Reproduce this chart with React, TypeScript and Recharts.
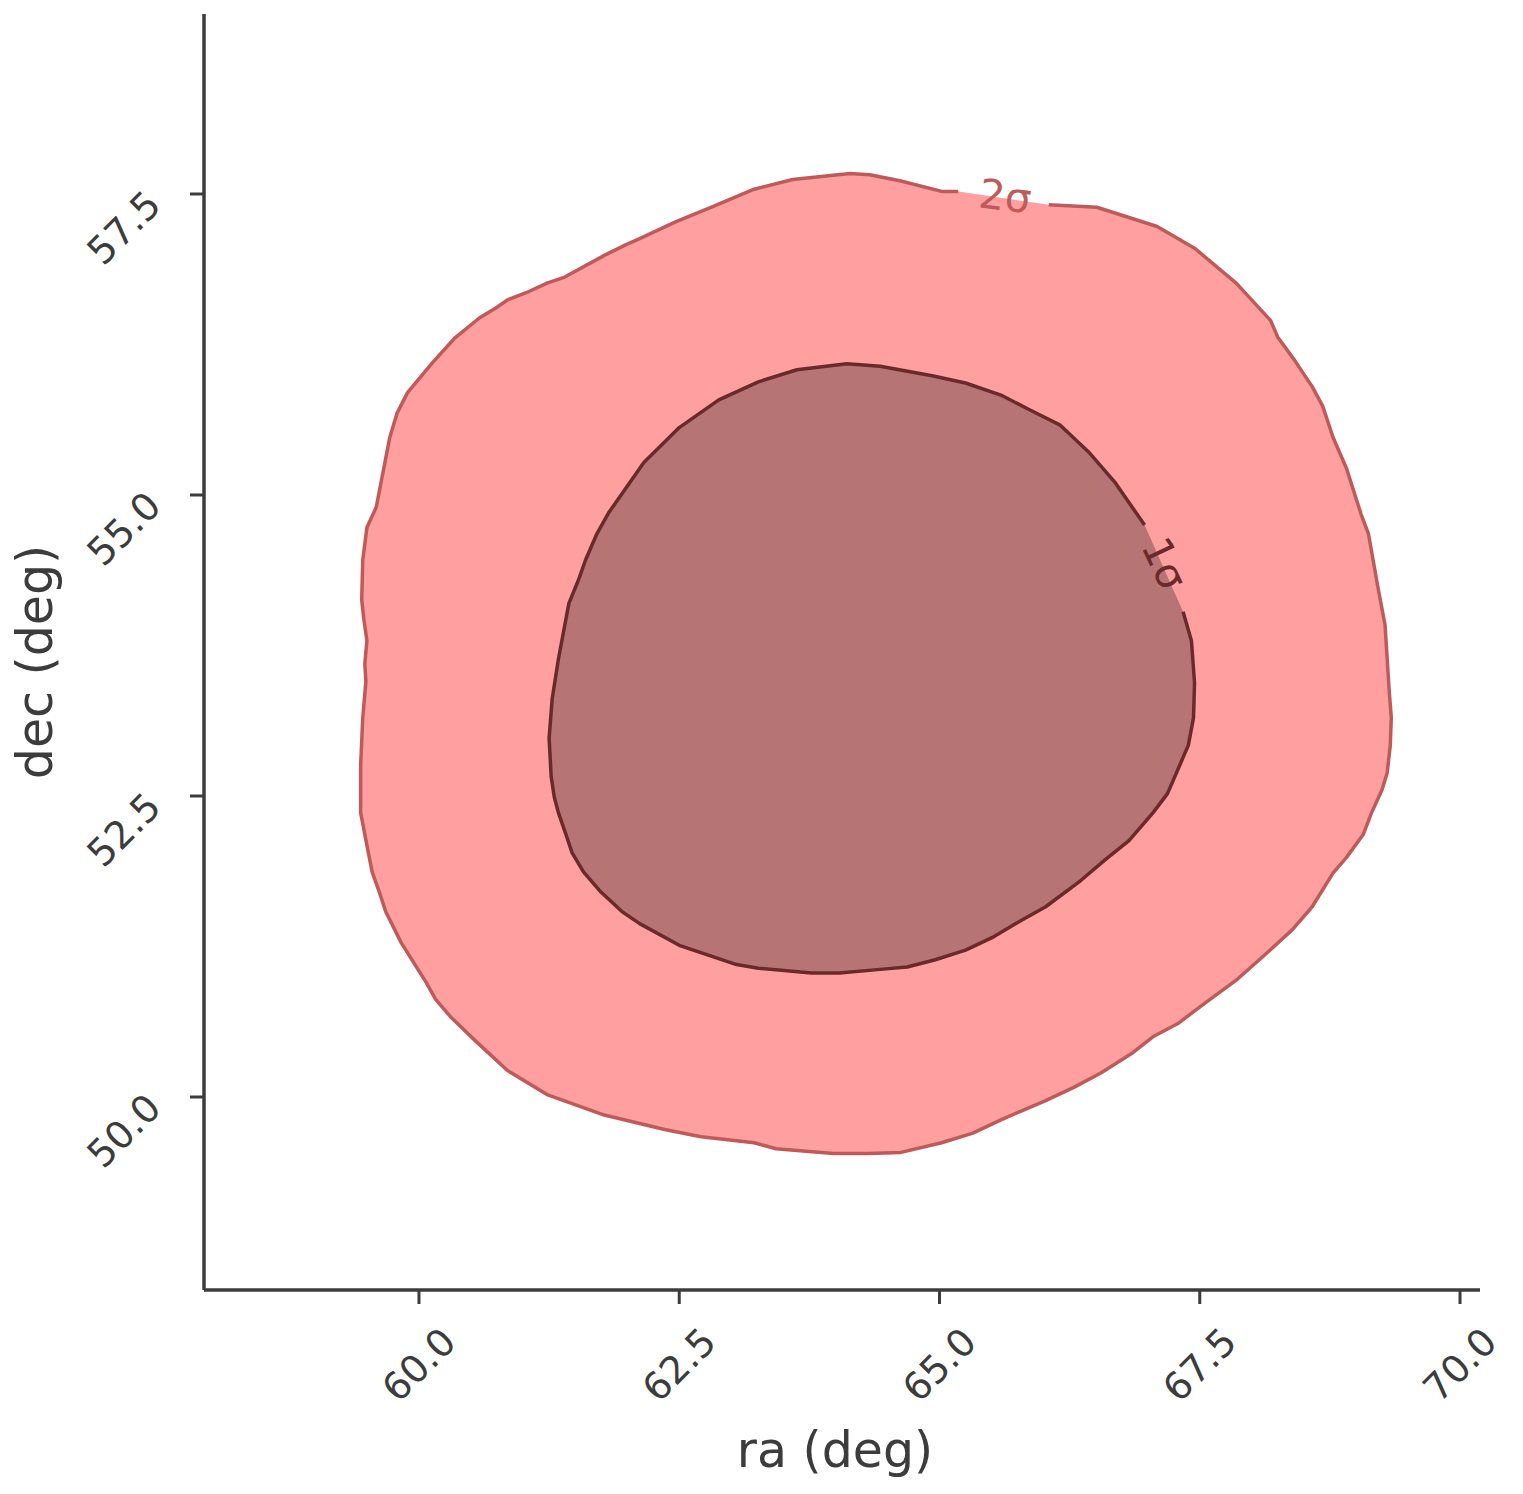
import { Area, ComposedChart, Label, Line, ReferenceDot, XAxis, YAxis } from "recharts";

// outer (2 sigma) contour, clockwise from the right end of the label gap
const outerRa = [
  66.05, 66.51, 66.73, 67.09, 67.45, 67.85, 68.18, 68.25, 68.41, 68.58,
  68.68, 68.78, 68.91, 69.05, 69.12, 69.21, 69.28, 69.32, 69.34, 69.33,
  69.3, 69.25, 69.15, 69.07, 68.91, 68.78, 68.58, 68.39, 68.15, 67.85,
  67.55, 67.29, 67.05, 66.86, 66.55, 66.29, 66.02, 65.75, 65.59, 65.32,
  65.02, 64.63, 64.31, 63.98, 63.43, 63.22, 62.71, 62.36, 61.78, 61.23,
  60.85, 60.55, 60.31, 60.16, 60.07, 59.83, 59.68, 59.62, 59.55, 59.5,
  59.44, 59.44, 59.46, 59.49, 59.48, 59.5, 59.47, 59.45, 59.46, 59.5,
  59.59, 59.72, 59.79, 59.89, 60.13, 60.34, 60.58, 60.75, 60.85, 61.03,
  61.23, 61.4, 61.78, 61.99, 62.12, 62.47, 62.81, 63.22, 63.59, 64.14,
  64.33, 64.62, 65.03, 65.18,
];
const outerDec = [
  57.41, 57.39, 57.33, 57.23, 57.05, 56.76, 56.45, 56.31, 56.12, 55.9,
  55.74, 55.48, 55.22, 54.84, 54.68, 54.24, 53.92, 53.37, 53.15, 52.92,
  52.69, 52.55, 52.36, 52.18, 51.99, 51.86, 51.58, 51.39, 51.2, 50.97,
  50.78, 50.61, 50.5, 50.37, 50.2, 50.08, 49.97, 49.87, 49.81, 49.7,
  49.62, 49.54, 49.53, 49.53, 49.57, 49.62, 49.67, 49.73, 49.85, 50.02,
  50.22, 50.46, 50.66, 50.81, 50.95, 51.28, 51.54, 51.7, 51.87, 52.09,
  52.36, 52.76, 53.15, 53.45, 53.6, 53.79, 53.97, 54.13, 54.46, 54.73,
  54.9, 55.48, 55.68, 55.85, 56.1, 56.3, 56.47, 56.56, 56.62, 56.68,
  56.76, 56.81, 56.99, 57.08, 57.13, 57.27, 57.39, 57.54, 57.62, 57.67,
  57.66, 57.61, 57.52, 57.52,
];

// inner (1 sigma) contour, clockwise from the lower end of the label gap
const innerRa = [
  67.34, 67.42, 67.45, 67.44, 67.39, 67.29, 67.19, 67.05, 66.82, 66.59,
  66.36, 66.02, 65.75, 65.52, 65.25, 64.96, 64.69, 64.43, 64.04, 63.77,
  63.26, 63.05, 62.5, 62.12, 61.95, 61.75, 61.58, 61.47, 61.42, 61.34,
  61.3, 61.27, 61.25, 61.28, 61.34, 61.44, 61.53, 61.6, 61.71, 61.82,
  62.16, 62.5, 62.88, 63.26, 63.63, 64.11, 64.43, 64.93, 65.25, 65.59,
  65.86, 66.16, 66.43, 66.69, 66.97,
];
const innerDec = [
  54.03, 53.79, 53.44, 53.15, 52.92, 52.72, 52.52, 52.36, 52.13, 51.97,
  51.8, 51.58, 51.45, 51.33, 51.22, 51.14, 51.08, 51.06, 51.03, 51.03,
  51.07, 51.1, 51.26, 51.44, 51.54, 51.7, 51.87, 52.03, 52.16, 52.36,
  52.49, 52.66, 52.98, 53.31, 53.64, 54.1, 54.29, 54.46, 54.68, 54.85,
  55.27, 55.56, 55.79, 55.94, 56.04, 56.09, 56.07, 55.99, 55.93, 55.83,
  55.71, 55.58, 55.36, 55.1, 54.75,
];

const levelText = ["2σ", "1σ"];
const levelRa = [65.63, 67.16];
const levelDec = [57.48, 54.43];

const xTicks = [60, 62.5, 65, 67.5, 70];
const yTicks = [50, 52.5, 55, 57.5];

// one row per vertex; the closing row repeats the first vertex (fill only)
const rowCount = Math.max(outerRa.length, innerRa.length) + 1;
const rows = Array.from({ length: rowCount }, (_, i) => {
  const o = i < outerRa.length ? i : 0;
  const k = i < innerRa.length ? i : 0;
  return {
    ox: outerRa[o],
    oy: outerDec[o],
    oyLine: i < outerRa.length ? outerDec[o] : null,
    ix: innerRa[k],
    iy: innerDec[k],
    iyLine: i < innerRa.length ? innerDec[k] : null,
  };
});

const INK = "#3c3c3c";
const FONT = "DejaVu Sans, sans-serif";
const levelStyle = [
  { color: "#bf5a5a", angle: 7 },
  { color: "#6b2a2a", angle: 65 },
];

function XTick({ x, y, payload }: any) {
  return (
    <text
      transform={`translate(${x},${y + 61}) rotate(-45)`}
      textAnchor="middle"
      dominantBaseline="central"
      fontSize={38}
      fontFamily={FONT}
      fill={INK}
    >
      {Number(payload.value).toFixed(1)}
    </text>
  );
}

function YTick({ x, y, payload }: any) {
  return (
    <text
      transform={`translate(${x - 66},${y + 34}) rotate(-45)`}
      textAnchor="middle"
      dominantBaseline="central"
      fontSize={38}
      fontFamily={FONT}
      fill={INK}
    >
      {Number(payload.value).toFixed(1)}
    </text>
  );
}

function levelShape(i: number) {
  return (props: any) => (
    <text
      transform={`translate(${props.cx},${props.cy}) rotate(${levelStyle[i].angle})`}
      textAnchor="middle"
      dominantBaseline="central"
      fontSize={41}
      fontFamily={FONT}
      fill={levelStyle[i].color}
    >
      {levelText[i]}
    </text>
  );
}

export default function App() {
  return (
    <div style={{ position: "absolute", left: 0, top: 0, background: "#fff" }}>
      <ComposedChart
        width={1523}
        height={1494}
        data={rows}
        margin={{ top: 14, right: 43, bottom: 104, left: 104 }}
      >
        <XAxis
          xAxisId="outer"
          dataKey="ox"
          type="number"
          domain={[57.935, 70.192]}
          allowDataOverflow
          ticks={xTicks}
          interval={0}
          height={100}
          tickSize={14}
          tickMargin={0}
          axisLine={{ stroke: INK, strokeWidth: 3.5 }}
          tickLine={{ stroke: INK, strokeWidth: 3 }}
          tick={<XTick />}
        >
          <Label
            content={(p: any) => (
              <text
                x={p.viewBox.x + p.viewBox.width / 2 - 7}
                y={p.viewBox.y + 177}
                textAnchor="middle"
                fontSize={49}
                fontFamily={FONT}
                fill={INK}
              >
                ra (deg)
              </text>
            )}
          />
        </XAxis>
        <XAxis
          xAxisId="inner"
          dataKey="ix"
          type="number"
          domain={[57.935, 70.192]}
          allowDataOverflow
          height={0}
          hide
        />
        <YAxis
          type="number"
          domain={[48.397, 58.995]}
          allowDataOverflow
          ticks={yTicks}
          interval={0}
          width={100}
          tickSize={14}
          tickMargin={0}
          axisLine={{ stroke: INK, strokeWidth: 3.5 }}
          tickLine={{ stroke: INK, strokeWidth: 3 }}
          tick={<YTick />}
        >
          <Label
            content={(p: any) => {
              const cx = p.viewBox.x + p.viewBox.width - 152;
              const cy = p.viewBox.y + p.viewBox.height / 2 + 10;
              return (
                <text
                  transform={`translate(${cx},${cy}) rotate(-90)`}
                  textAnchor="middle"
                  fontSize={49}
                  fontFamily={FONT}
                  fill={INK}
                >
                  dec (deg)
                </text>
              );
            }}
          />
        </YAxis>

        <Area
          xAxisId="outer"
          dataKey="oy"
          type="linear"
          fill="#ff9f9f"
          fillOpacity={1}
          stroke="none"
          isAnimationActive={false}
        />
        <Line
          xAxisId="outer"
          dataKey="oyLine"
          type="linear"
          stroke="#bf5a5a"
          strokeWidth={3.5}
          strokeLinejoin="round"
          dot={false}
          activeDot={false}
          isAnimationActive={false}
        />
        <Area
          xAxisId="inner"
          dataKey="iy"
          type="linear"
          fill="#b67474"
          fillOpacity={1}
          stroke="none"
          isAnimationActive={false}
        />
        <Line
          xAxisId="inner"
          dataKey="iyLine"
          type="linear"
          stroke="#6b2a2a"
          strokeWidth={3.5}
          strokeLinejoin="round"
          dot={false}
          activeDot={false}
          isAnimationActive={false}
        />
        {levelText.map((t, i) => (
          <ReferenceDot
            key={t}
            xAxisId="outer"
            x={levelRa[i]}
            y={levelDec[i]}
            r={0}
            shape={levelShape(i)}
          />
        ))}
      </ComposedChart>
    </div>
  );
}
